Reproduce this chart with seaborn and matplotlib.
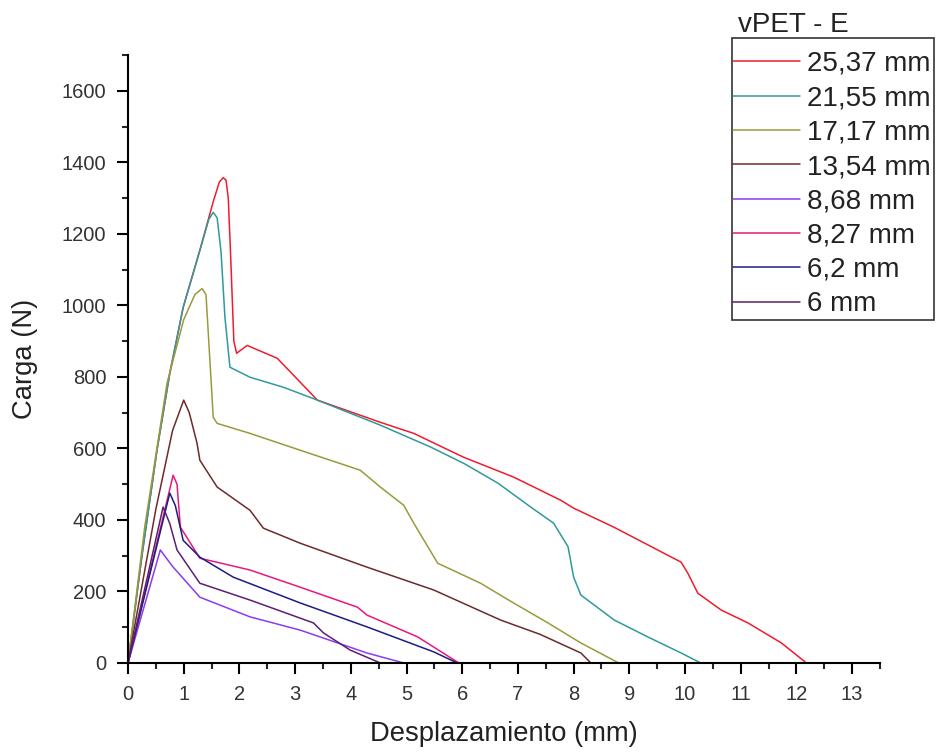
import matplotlib
matplotlib.use("Agg")
import matplotlib.pyplot as plt
from matplotlib.ticker import MultipleLocator
from matplotlib.patches import Rectangle
import seaborn as sns
import pandas as pd

sns.set_theme(style="white")
plt.rcParams['font.family'] = ['Liberation Sans', 'DejaVu Sans']

labels = ["25,37 mm", "21,55 mm", "17,17 mm", "13,54 mm", "8,68 mm", "8,27 mm", "6,2 mm", "6 mm"]
colors = ["#ee1c2e", "#2f9a9a", "#9a9a3c", "#6e2a2a", "#8a3cf0", "#e8197a", "#1c1c88", "#5e1f6e"]

x_2537 = [0, 0.25, 0.52, 0.75, 0.99, 1.29, 1.53, 1.64, 1.71, 1.76, 1.8, 1.84, 1.9, 1.95, 2.14, 2.68, 3.4, 4.53, 5.13,
          6.03, 6.92, 7.77, 8.0, 8.72, 9.62, 9.93, 10.05, 10.23, 10.65, 11.13, 11.73, 12.18]
y_2537 = [0, 300, 595, 810, 994, 1154, 1290, 1345, 1357, 1350, 1300, 1150, 900, 866, 888, 852, 735, 673, 642,
          575, 520, 455, 433, 380, 307, 282, 251, 195, 148, 112, 56, 0]

x_2155 = [0, 0.25, 0.52, 0.75, 0.99, 1.29, 1.45, 1.53, 1.6, 1.67, 1.74, 1.83, 2.19, 2.79, 3.4, 4.53, 5.43,
          6.03, 6.64, 7.23, 7.64, 7.9, 8.0, 8.13, 8.73, 9.33, 9.93, 10.28]
y_2155 = [0, 300, 595, 810, 994, 1154, 1240, 1260, 1245, 1150, 967, 827, 799, 771, 735, 665, 604,
          558, 503, 436, 391, 325, 240, 190, 120, 73, 28, 0]

x_1717 = [0, 0.3, 0.7, 1.0, 1.2, 1.33, 1.4, 1.45, 1.53, 1.6, 2.19, 3.09, 4.17, 4.53, 4.95, 5.13, 5.56,
          6.33, 6.92, 7.54, 8.13, 8.81]
y_1717 = [0, 380, 782, 960, 1030, 1047, 1030, 900, 687, 670, 642, 595, 539, 492, 441, 391, 279,
          223, 168, 112, 56, 0]

x_1354 = [0, 0.5, 0.8, 1.0, 1.1, 1.24, 1.29, 1.6, 2.19, 2.43, 3.09, 4.29, 5.49, 6.69, 7.4, 8.13, 8.31]
y_1354 = [0, 430, 650, 735, 700, 614, 567, 492, 427, 377, 335, 268, 204, 120, 80, 28, 0]

x_868 = [0, 0.58, 0.8, 1.29, 2.19, 3.09, 4.29, 4.95]
y_868 = [0, 316, 270, 184, 129, 92, 28, 0]

x_827 = [0, 0.81, 0.88, 0.94, 1.29, 2.19, 3.09, 4.12, 4.29, 5.2, 5.94]
y_827 = [0, 525, 500, 380, 293, 260, 212, 156, 134, 73, 0]

x_62 = [0, 0.75, 0.85, 0.99, 1.29, 1.89, 3.09, 4.29, 5.49, 5.91]
y_62 = [0, 475, 440, 343, 296, 240, 168, 101, 31, 0]

x_6 = [0, 0.63, 0.75, 0.88, 1.29, 2.19, 3.33, 3.51, 3.99, 4.53]
y_6 = [0, 436, 390, 316, 223, 176, 112, 84, 36, 0]

series = [(x_2537, y_2537), (x_2155, y_2155), (x_1717, y_1717), (x_1354, y_1354),
          (x_868, y_868), (x_827, y_827), (x_62, y_62), (x_6, y_6)]

W, H = 936, 756
fig = plt.figure(figsize=(W / 100, H / 100), dpi=100)
ax = fig.add_axes([128 / W, 1 - 663 / H, (880 - 128) / W, (663 - 55) / H])

for (xs, ys), lab, col in zip(series, labels, colors):
    df = pd.DataFrame({"x": xs, "y": ys})
    sns.lineplot(data=df, x="x", y="y", ax=ax, color=col, label=lab, linewidth=1.1,
                 sort=False, estimator=None)

ax.set_xlim(0, 13.5)
ax.set_ylim(0, 1700)
ax.xaxis.set_major_locator(MultipleLocator(1))
ax.xaxis.set_minor_locator(MultipleLocator(0.5))
ax.yaxis.set_major_locator(MultipleLocator(200))
ax.yaxis.set_minor_locator(MultipleLocator(100))
ax.tick_params(which='major', direction='out', length=8, width=1.5, labelsize=14.5,
               colors='black', labelcolor='#333333', bottom=True, left=True, pad=7.5)
ax.tick_params(which='minor', direction='out', length=4.5, width=1.5, bottom=True, left=True)
for s in ['top', 'right']:
    ax.spines[s].set_visible(False)
for s in ['left', 'bottom']:
    ax.spines[s].set_color('black')
    ax.spines[s].set_linewidth(1.5)
ax.set_xlabel("Desplazamiento (mm)", fontsize=19.7, color='#222222')
ax.set_ylabel("Carga (N)", fontsize=19.7, color='#222222')
ax.xaxis.set_label_coords(0.5, (663 - 721) / (663 - 55))
ax.yaxis.set_label_coords((38 - 128) / (880 - 128), 0.5)

ax.get_legend().remove()
handles, labs = ax.get_legend_handles_labels()
leg = fig.legend(handles, labs, loc='upper left', bbox_to_anchor=(733 / W, 1 - 51 / H),
                 frameon=False, fontsize=20,
                 handlelength=2.4, handletextpad=0.25, labelspacing=0.30,
                 borderpad=0, borderaxespad=0)
for t in leg.get_texts():
    t.set_color('#222222')
fig.add_artist(Rectangle((732 / W, 1 - 320 / H), (934 - 732) / W, (320 - 38) / H,
                         transform=fig.transFigure, fill=False, edgecolor='#333333', linewidth=1.2))
fig.text(738 / W, 1 - 32 / H, "vPET - E", fontsize=20, color='#222222', ha='left', va='baseline')

fig.savefig("out.png", dpi=100)
